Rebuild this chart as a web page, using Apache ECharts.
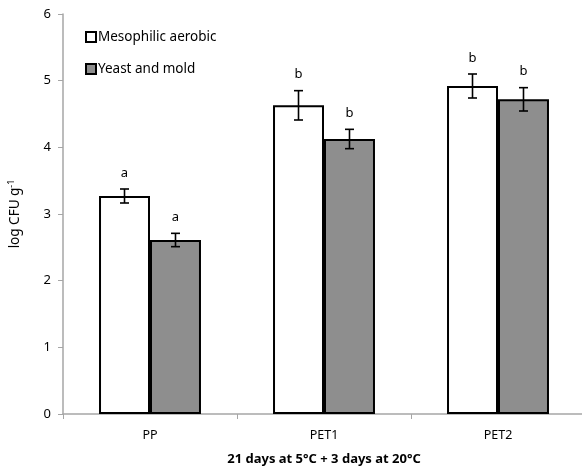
<!DOCTYPE html>
<html>
<head>
<meta charset="utf-8">
<script src="https://cdn.jsdelivr.net/npm/echarts@6/dist/echarts.min.js"></script>
<style>html,body{margin:0;padding:0;background:#fff}#c{width:582px;height:468px}</style>
</head>
<body>
<div id="c"></div>
<script>
var categories = ['PP', 'PET1', 'PET2'];
var mesophilic = [3.27, 4.63, 4.92];
var mesophilicErr = [0.105, 0.22, 0.18];
var mesophilicLetters = ['a', 'b', 'b'];
var yeast = [2.61, 4.125, 4.72];
var yeastErr = [0.1, 0.145, 0.175];
var yeastLetters = ['a', 'b', 'b'];
var seriesNames = ['Mesophilic aerobic', 'Yeast and mold'];
var yTicks = [0, 1, 2, 3, 4, 5, 6];

var FONT = 'Noto Sans';
var chart = echarts.init(document.getElementById('c'));

function errData(vals, errs, letters) {
  return vals.map(function (v, i) { return [i, v, errs[i], letters[i]]; });
}

function errRender(seriesIdx) {
  return function (params, api) {
    var i = api.value(0), v = api.value(1), e = api.value(2);
    var letter = (seriesIdx === 0 ? mesophilicLetters : yeastLetters)[params.dataIndex];
    var base = api.coord([i, v]);
    var bw = api.size([1, 0])[0];
    var barW = bw * 0.293;
    var x = base[0] + (seriesIdx === 0 ? -barW / 2 : barW / 2);
    var top = api.coord([i, v + e])[1];
    var bot = api.coord([i, v - e])[1];
    var cap = 4.5;
    var st = { stroke: '#000', lineWidth: 1.6 };
    return {
      type: 'group',
      children: [
        { type: 'line', shape: { x1: x, y1: top, x2: x, y2: bot }, style: st },
        { type: 'line', shape: { x1: x - cap, y1: top, x2: x + cap, y2: top }, style: st },
        { type: 'line', shape: { x1: x - cap, y1: bot, x2: x + cap, y2: bot }, style: st },
        { type: 'text', x: x, y: top - 16, style: { text: letter, fill: '#000', font: '13px ' + FONT, align: 'center', verticalAlign: 'middle' } }
      ]
    };
  };
}

chart.setOption({
  animation: false,
  textStyle: { fontFamily: FONT },
  grid: { left: 63, top: 14, width: 522, height: 400, containLabel: false, outerBoundsMode: 'none' },
  legend: {
    left: 80, top: 25, orient: 'vertical', itemGap: 18,
    icon: 'rect', itemWidth: 10, itemHeight: 10,
    data: seriesNames,
    textStyle: { fontSize: 13.5, color: '#000', fontFamily: FONT, padding: [0, 0, 0, -3] }
  },
  xAxis: {
    type: 'category', data: categories,
    name: '21 days at 5°C + 3 days at 20°C',
    nameLocation: 'middle', nameGap: 39,
    nameTextStyle: { fontSize: 13, fontWeight: 'bold', color: '#000', fontFamily: FONT },
    axisLine: { lineStyle: { color: '#a6a6a6', width: 1.5 } },
    axisTick: { show: true, alignWithLabel: false, length: 5, lineStyle: { color: '#a6a6a6' } },
    axisLabel: { fontSize: 12.5, color: '#000', margin: 15, fontFamily: FONT }
  },
  yAxis: {
    type: 'value', min: 0, max: 6, interval: 1,
    name: '{n|log CFU g}{s|-1}',
    nameLocation: 'middle', nameGap: 39,
    nameTextStyle: {
      rich: {
        n: { fontSize: 13.5, color: '#000', fontFamily: FONT },
        s: { fontSize: 9, color: '#000', fontFamily: FONT, verticalAlign: 'top', padding: [0, 0, 8, 0] }
      }
    },
    axisLine: { show: true, lineStyle: { color: '#a6a6a6', width: 1.5 } },
    axisTick: { show: true, inside: false, length: 5, lineStyle: { color: '#a6a6a6' } },
    splitLine: { show: false },
    axisLabel: { fontSize: 13, color: '#000', margin: 12, fontFamily: FONT,
      formatter: function (v) { return yTicks.indexOf(v) >= 0 ? String(v) : ''; } }
  },
  series: [
    { name: seriesNames[0], type: 'bar', data: mesophilic, barGap: '0%', barCategoryGap: '41.4%',
      itemStyle: { color: '#ffffff', borderColor: '#000', borderWidth: 2 } },
    { name: seriesNames[1], type: 'bar', data: yeast,
      itemStyle: { color: '#8e8e8e', borderColor: '#000', borderWidth: 2 } },
    { type: 'custom', renderItem: errRender(0), data: errData(mesophilic, mesophilicErr, mesophilicLetters), z: 10, silent: true },
    { type: 'custom', renderItem: errRender(1), data: errData(yeast, yeastErr, yeastLetters), z: 10, silent: true }
  ]
});
</script>
</body>
</html>
